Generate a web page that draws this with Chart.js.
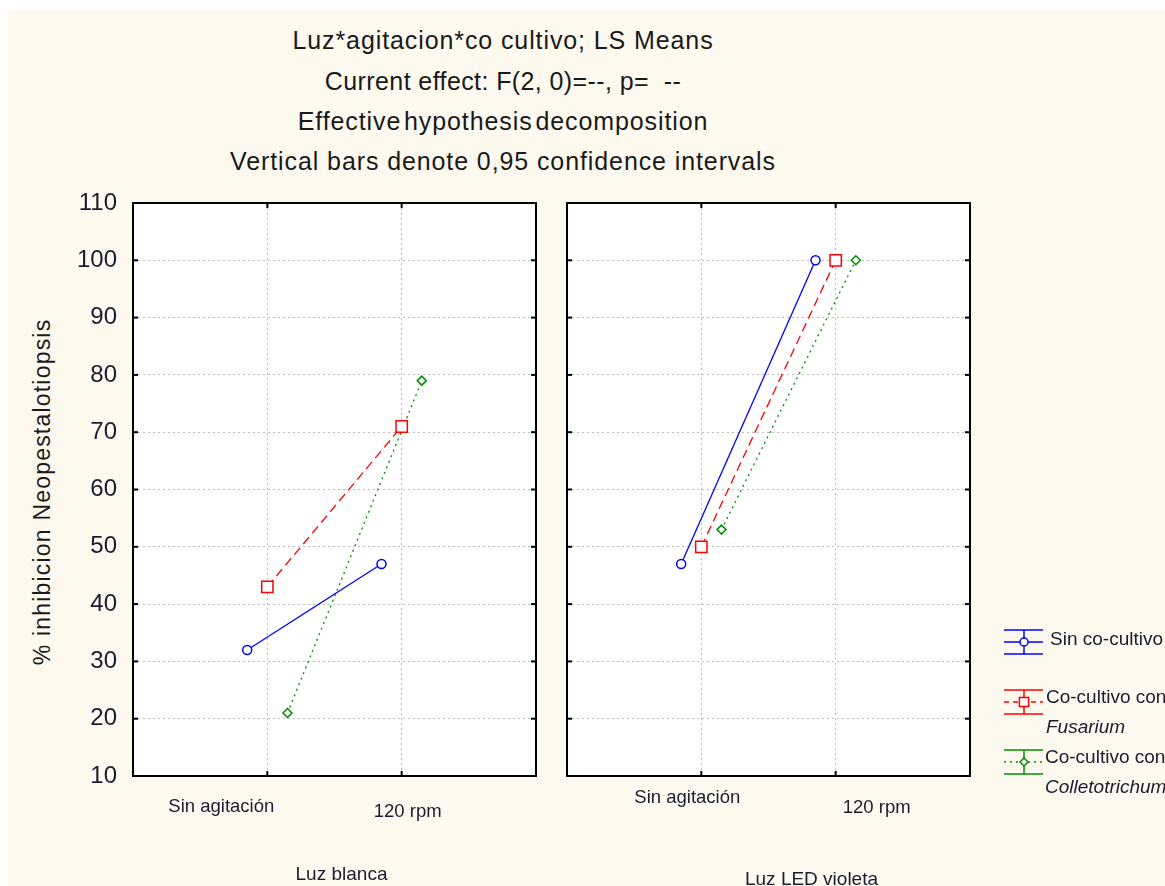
<!DOCTYPE html>
<html>
<head>
<meta charset="utf-8">
<script src="https://cdn.jsdelivr.net/npm/chart.js@4.4.0/dist/chart.umd.min.js"></script>
<style>
  html, body { margin: 0; padding: 0; background: #fff; }
  #page { position: relative; width: 1165px; height: 886px; overflow: hidden; background: #fff; }
  #bg { position: absolute; left: 8px; top: 10px; right: 0; bottom: 0; background: #fdf9ef; }
  canvas { position: absolute; top: 0; }
  #c1 { left: 0; }
  #c2 { left: 552px; }
  .t { position: absolute; left: 0; width: 1006px; text-align: center; white-space: nowrap;
       font: 25px "Liberation Sans", Arial, sans-serif; color: #1a1a1a; line-height: 25px; letter-spacing: 0.9px; }
  #ylab { position: absolute; left: 42px; top: 492px; white-space: nowrap;
          transform: translate(-50%, -50%) rotate(-90deg);
          font: 23px "Liberation Sans", Arial, sans-serif; color: #1a1a1a; letter-spacing: 1.2px; }
</style>
</head>
<body>
<div id="page">
  <div id="bg"></div>
  <div class="t" style="top:28px">Luz*agitacion*co cultivo; LS Means</div>
  <div class="t" style="top:69px;letter-spacing:0.4px">Current effect: F(2, 0)=--, p=&nbsp; --</div>
  <div class="t" style="top:109px;word-spacing:-5px">Effective hypothesis decomposition</div>
  <div class="t" style="top:149px">Vertical bars denote 0,95 confidence intervals</div>
  <div id="ylab">% inhibicion Neopestalotiopsis</div>
  <canvas id="c1" width="552" height="886"></canvas>
  <canvas id="c2" width="613" height="886"></canvas>
</div>
<script>
// data
const categories = ['Sin agitación', '120 rpm'];
const panelNames = ['Luz blanca', 'Luz LED violeta'];
const seriesNames = [['Sin co-cultivo'], ['Co-cultivo con', 'Fusarium'], ['Co-cultivo con', 'Colletotrichum']];
const yMin = 10, yMax = 110, yStep = 10;

const blancaSin = [32, 47];
const blancaFus = [43, 71];
const blancaCol = [21, 79];
const violetaSin = [47, 100];
const violetaFus = [50, 100];
const violetaCol = [53, 100];

// look
const COLORS = ['#0000ff', '#ff0000', '#008c00'];
const DASHES = [[], [9, 5], [2, 4]];
const MARKERS = ['circle', 'rect', 'rectRot'];
const RADII = [4.5, 8, 4.5];
const SHIFT = [-0.15, 0, 0.15];
const GRID = '#bdbdbd';
const TXT = '#1c1c30';
const FONT = '"Liberation Sans", Arial, sans-serif';

function line(ctx, x1, y1, x2, y2){ ctx.beginPath(); ctx.moveTo(x1, y1); ctx.lineTo(x2, y2); ctx.stroke(); }

const framePlugin = {
  id: 'frame',
  beforeDraw(chart){
    const {ctx, chartArea: a} = chart;
    ctx.save(); ctx.fillStyle = '#fff'; ctx.fillRect(a.left, a.top, a.right - a.left, a.bottom - a.top); ctx.restore();
  },
  afterDraw(chart, args, o){
    const {ctx, chartArea: a} = chart;
    const xs = chart.scales.x, ys = chart.scales.y;
    ctx.save();
    // box + inner ticks
    ctx.strokeStyle = '#000'; ctx.lineWidth = 2;
    ctx.strokeRect(a.left, a.top, a.right - a.left, a.bottom - a.top);
    ys.ticks.forEach(t => {
      const y = ys.getPixelForValue(t.value);
      line(ctx, a.left, y, a.left + 5, y); line(ctx, a.right - 5, y, a.right, y);
    });
    categories.forEach((c, i) => {
      const x = xs.getPixelForValue(i + 1);
      line(ctx, x, a.top, x, a.top + 5); line(ctx, x, a.bottom - 5, x, a.bottom);
    });
    // category labels
    ctx.fillStyle = TXT; ctx.textAlign = 'center'; ctx.textBaseline = 'middle';
    ctx.font = '18.5px ' + FONT;
    categories.forEach((c, i) => {
      ctx.fillText(c, xs.getPixelForValue(i + 1) + o.labelDx[i], o.labelY[i]);
    });
    ctx.font = '19px ' + FONT;
    ctx.fillText(panelNames[o.panel], (a.left + a.right) / 2 + o.groupDx, o.groupY);
    // legend
    if (o.legend) {
      const off = o.legend.offset;
      seriesNames.forEach((lines, s) => {
        const cy = o.legend.y[s];
        const x0 = 1004 - off, x1 = 1043 - off, xc = 1024 - off;
        ctx.strokeStyle = COLORS[s]; ctx.lineWidth = 1.5; ctx.setLineDash([]);
        line(ctx, x0, cy - 12, x1, cy - 12);
        line(ctx, x0, cy + 12, x1, cy + 12);
        line(ctx, xc, cy - 12, xc, cy + 12);
        ctx.setLineDash(s === 1 ? [5, 4] : DASHES[s]);
        line(ctx, x0, cy, x1, cy);
        ctx.setLineDash([]);
        ctx.fillStyle = '#fff';
        Chart.helpers.drawPoint(ctx, {pointStyle: MARKERS[s], radius: s === 1 ? 6.5 : 4, borderWidth: 1.5, rotation: 0}, xc, cy);
        ctx.fillStyle = TXT; ctx.textAlign = 'left';
        ctx.font = '19px ' + FONT;
        ctx.fillText(lines[0], o.legend.textX[s] - off, o.legend.textY[s]);
        if (lines[1]) {
          ctx.font = 'italic 19px ' + FONT;
          ctx.fillText(lines[1], o.legend.textX[s] - off, o.legend.textY[s] + 30);
        }
      });
    }
    ctx.restore();
  }
};

function panelConfig(series, o){
  return {
    type: 'line',
    data: {
      datasets: series.map((vals, s) => ({
        label: seriesNames[s].join(' '),
        data: vals.map((v, i) => ({x: i + 1 + SHIFT[s], y: v})),
        borderColor: COLORS[s], borderWidth: 1.3, borderDash: DASHES[s],
        pointStyle: MARKERS[s], pointRadius: RADII[s], pointBorderWidth: 1.5,
        pointBorderColor: COLORS[s], pointBackgroundColor: '#fff',
        tension: 0, fill: false
      }))
    },
    options: {
      responsive: false, animation: false, devicePixelRatio: 1,
      layout: {padding: o.padding},
      plugins: {legend: {display: false}, tooltip: {enabled: false}, frame: o.frame},
      scales: {
        x: {type: 'linear', min: 0, max: categories.length + 1,
            afterFit: s => { s.height = 0; },
            ticks: {display: false, stepSize: 1},
            grid: {color: GRID, lineWidth: 1, drawTicks: false},
            border: {display: false, dash: [2, 3]}},
        y: {min: yMin, max: yMax,
            afterFit: s => { s.width = o.yWidth; },
            ticks: {display: o.showY, stepSize: yStep, padding: 16, color: TXT, font: {family: FONT, size: 24}},
            grid: {color: GRID, lineWidth: 1, drawTicks: false},
            border: {display: false, dash: [2, 3]}}
      }
    },
    plugins: [framePlugin]
  };
}

new Chart(document.getElementById('c1'), panelConfig([blancaSin, blancaFus, blancaCol], {
  padding: {left: 0, top: 203, right: 16, bottom: 110}, yWidth: 133, showY: true,
  frame: {panel: 0, labelDx: [-46, 6], labelY: [807, 812], groupDx: 7, groupY: 875}
}));

new Chart(document.getElementById('c2'), panelConfig([violetaSin, violetaFus, violetaCol], {
  padding: {left: 15, top: 203, right: 195, bottom: 110}, yWidth: 0, showY: false,
  frame: {panel: 1, labelDx: [-14, 41], labelY: [798, 808], groupDx: 43, groupY: 880,
          legend: {offset: 552, y: [642, 702, 762], textX: [1050, 1046, 1045], textY: [640, 698, 758]}}
}));
</script>
</body>
</html>
